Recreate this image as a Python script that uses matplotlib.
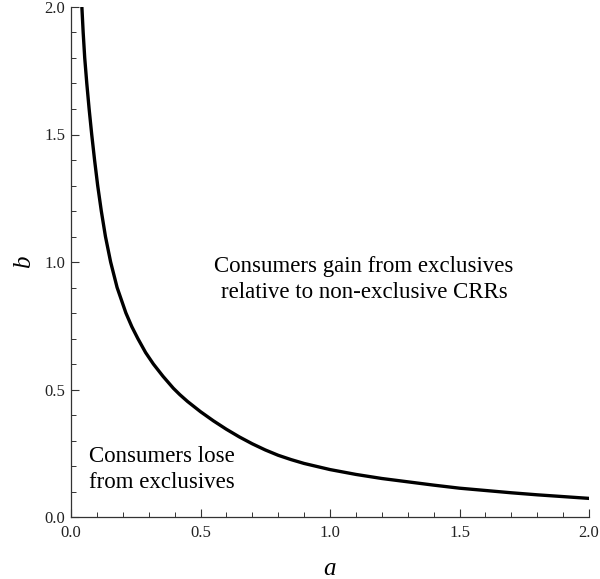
import matplotlib
matplotlib.use('Agg')
import matplotlib.pyplot as plt
import numpy as np

# boundary curve
a_vals = [0.042, 0.047, 0.053, 0.061, 0.070, 0.080, 0.091, 0.103, 0.117, 0.133,
          0.153, 0.178, 0.212, 0.235, 0.258, 0.288, 0.318, 0.355, 0.395, 0.420,
          0.450, 0.500, 0.550, 0.600, 0.650, 0.700, 0.750, 0.800, 0.850, 0.900,
          1.000, 1.100, 1.200, 1.300, 1.400, 1.500, 1.600, 1.700, 1.800, 1.900,
          2.000]
b_vals = [2.00, 1.90, 1.80, 1.70, 1.60, 1.50, 1.40, 1.30, 1.20, 1.10,
          1.00, 0.90, 0.80, 0.746, 0.70, 0.645, 0.60, 0.552, 0.505, 0.480,
          0.453, 0.413, 0.377, 0.344, 0.314, 0.287, 0.263, 0.242, 0.225, 0.210,
          0.186, 0.167, 0.151, 0.138, 0.125, 0.113, 0.104, 0.095, 0.087, 0.080,
          0.073]

major_ticks = [0.0, 0.5, 1.0, 1.5, 2.0]
tick_labels = ['0.0', '0.5', '1.0', '1.5', '2.0']
minor_ticks = np.arange(0, 2.01, 0.1)

gain_lines = ['Consumers gain from exclusives', 'relative to non-exclusive CRRs']
lose_lines = ['Consumers lose', 'from exclusives']

plt.rcParams['font.family'] = ['Liberation Serif', 'DejaVu Serif']

fig = plt.figure(figsize=(6.0, 5.79), dpi=100)
ax = fig.add_axes([71/600, 62/579, 518/600, 510/579])

ax.plot(a_vals, b_vals, color='black', lw=2.4, solid_joinstyle='round')

ax.set_xlim(0, 2)
ax.set_ylim(0, 2)
ax.spines['top'].set_visible(False)
ax.spines['right'].set_visible(False)
for s in ['left', 'bottom']:
    ax.spines[s].set_linewidth(0.9)
    ax.spines[s].set_color('#333333')

ax.set_xticks(major_ticks)
ax.set_xticklabels(tick_labels)
ax.set_yticks(major_ticks)
ax.set_yticklabels(tick_labels)
ax.set_xticks(minor_ticks, minor=True)
ax.set_yticks(minor_ticks, minor=True)
ax.tick_params(which='major', direction='in', length=6, width=0.8, color='#333333',
               labelsize=12, labelcolor='#222222', pad=4)
ax.tick_params(which='minor', direction='in', length=3.5, width=0.7, color='#333333')
ax.tick_params(axis='x', which='major', pad=6)

ax.set_xlabel('a', fontsize=18, style='italic', labelpad=12)
ax.set_ylabel('b', fontsize=18, style='italic', labelpad=7)

ax.text(1.131, 0.962, gain_lines[0], ha='center', va='baseline', fontsize=16.5)
ax.text(1.131, 0.859, gain_lines[1], ha='center', va='baseline', fontsize=16.5)
ax.text(0.071, 0.217, lose_lines[0], ha='left', va='baseline', fontsize=16.5)
ax.text(0.071, 0.1125, lose_lines[1], ha='left', va='baseline', fontsize=16.5)

fig.savefig('out.png', dpi=100)
